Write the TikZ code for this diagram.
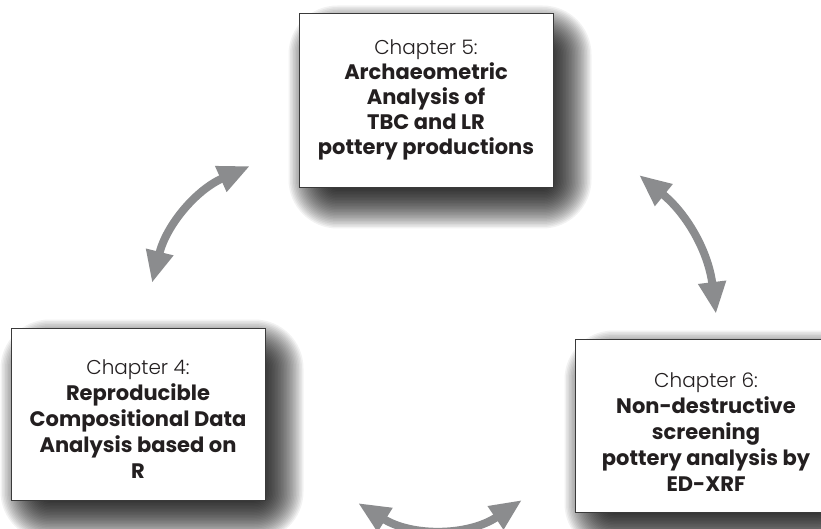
\documentclass[tikz,border=0pt]{standalone}
\usepackage{fontspec}
\setmainfont{Poppins}
\newfontfamily\lightfont{Poppins Light}
\usetikzlibrary{arrows.meta}
\definecolor{arrowgray}{HTML}{8B8C8E}
\definecolor{boxline}{HTML}{3A3A3A}
\definecolor{txt}{HTML}{231F20}
\newcommand\chaptext[2]{{\lightfont\mdseries\fontsize{20}{26}\selectfont #1}\\#2}
\pgfdeclarelayer{bgwhite}
\pgfdeclarelayer{bgshadow}
\pgfsetlayers{bgwhite,bgshadow,main}
\newcommand\boxshadow[1]{%
  \begin{pgfonlayer}{bgshadow}
  \foreach \e in {-24,-22.5,...,24}{%
    \pgfmathsetmacro\rr{\e+25}%
    \fill[black, opacity=0.05, rounded corners=\rr pt]
      ([shift={(14-\e,-16-\e)}]#1.south west) rectangle ([shift={(14+\e,-16+\e)}]#1.north east);
  }
  \end{pgfonlayer}}
\begin{document}
\begin{tikzpicture}[x=1pt,y=1pt,
  chapbox/.style={draw=boxline, line width=1pt, fill=white, minimum width=254pt,
    inner sep=0pt},
  chaplabel/.style={inner sep=0pt, align=center, text=txt,
    font=\fontsize{21}{26}\selectfont\bfseries},
  link/.style={draw=arrowgray, line width=8pt,
    {Triangle[length=32pt,width=26pt]}-{Triangle[length=32pt,width=26pt]}}]
\useasboundingbox (0,0) rectangle (821,-529);
\begin{pgfonlayer}{bgwhite}
\fill[white] (0,0) rectangle (821,-529);
\end{pgfonlayer}

\node[chapbox, minimum height=174pt] (c5) at (426,-101) {};
\node[chapbox, minimum height=172pt] (c4) at (138,-414) {};
\node[chapbox, minimum height=173pt] (c6) at (702,-425.5) {};
\boxshadow{c5}
\boxshadow{c4}
\boxshadow{c6}

\node[chaplabel, font=\fontsize{21}{25}\selectfont\bfseries] (t5) at ([yshift=1pt]c5)
  {\chaptext{Chapter 5:}{Archaeometric\\Analysis of\\TBC and LR\\pottery productions}};
\node[chaplabel] (t4) at ([yshift=-5pt]c4)
  {\chaptext{Chapter 4:}{Reproducible\\Compositional Data\\Analysis based on\\R}};
\node[chaplabel] (t6) at ([xshift=4pt,yshift=-7pt]c6)
  {\chaptext{Chapter 6:}{Non-destructive\\screening\\pottery analysis by\\ED-XRF}};

\coordinate (l1) at (152,-283);
\coordinate (l2) at (250,-166);
\coordinate (r1) at (639,-175);
\coordinate (r2) at (716,-314);
\coordinate (b1) at (358,-503);
\coordinate (b2) at (522,-500);

\draw[link] (l1) to[bend left=26] (l2);
\draw[link] (r1) to[bend left=22] (r2);
\draw[link] (b1) to[bend right=33] (b2);
\end{tikzpicture}
\end{document}
